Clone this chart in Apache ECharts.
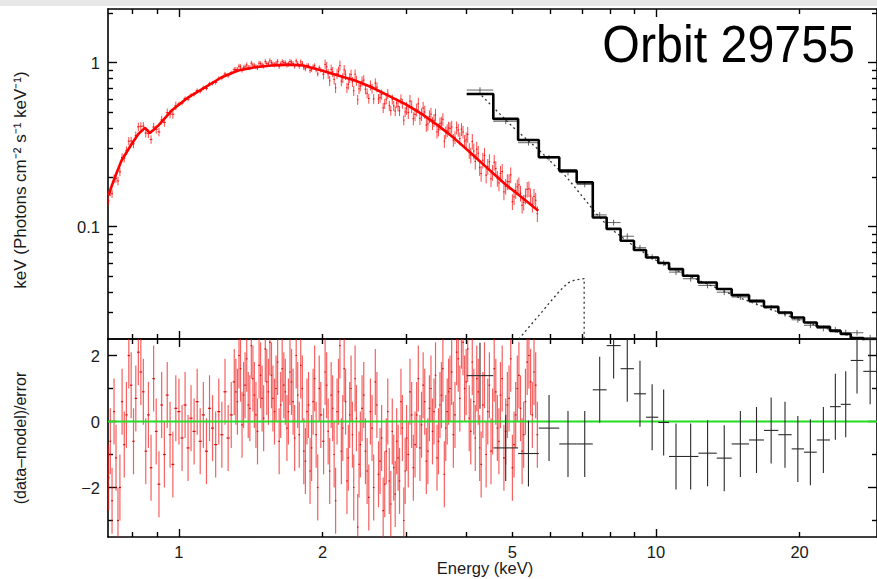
<!DOCTYPE html>
<html><head><meta charset="utf-8">
<script src="https://cdn.jsdelivr.net/npm/echarts@6/dist/echarts.min.js"></script>
<style>html,body{margin:0;padding:0;background:#fff}#c{width:877px;height:579px}</style>
</head><body><div id="c"></div>
<script>
// ---------------- data ----------------
// red spectrum (soft instrument): energy (keV), flux, residual
const redE = [0.712,0.718,0.724,0.731,0.738,0.745,0.752,0.760,0.768,0.776,0.785,0.794,0.803,0.812,0.822,0.832,0.842,0.852,0.863,0.874,0.885,0.896,0.908,0.920,0.932,0.945,0.958,0.971,0.985,
1.000,1.015,1.030,1.045,1.060,1.076,1.092,1.108,1.125,1.142,1.159,1.176,1.194,1.212,1.230,1.249,1.268,1.287,
1.306,1.316,1.326,1.336,1.346,1.356,1.366,1.376,1.387,1.397,
1.408,1.418,1.429,1.439,1.450,1.461,1.472,1.483,1.494,1.505,
1.517,1.528,1.540,1.551,1.563,1.574,1.586,1.598,1.610,1.622,
1.634,1.646,1.659,1.671,1.684,1.696,1.709,1.722,1.735,1.748,
1.761,1.774,1.787,1.800,1.814,1.827,1.841,1.855,1.869,1.883,
1.897,1.911,1.925,1.939,1.954,1.968,1.983,
2.01,2.025,2.04,2.055,2.07,2.085,2.10,2.115,2.13,2.145,
2.16,2.175,2.19,2.205,2.22,2.235,2.25,2.265,2.28,2.295,
2.31,2.325,2.34,2.355,2.37,2.385,2.40,2.42,2.44,2.46,
2.48,2.50,2.52,2.54,2.56,2.58,2.60,2.62,2.64,2.66,
2.68,2.70,2.72,2.74,2.76,2.78,2.80,2.82,2.84,2.86,
2.88,2.90,2.92,2.94,2.96,2.98,3.00,3.025,3.05,3.075,
3.10,3.125,3.15,3.175,3.20,3.225,3.25,3.275,3.30,3.325,
3.35,3.375,3.40,3.425,3.45,3.475,3.50,3.525,3.55,3.575,
3.60,3.625,3.65,3.675,3.70,3.73,3.76,3.79,3.82,3.85,
3.88,3.91,3.94,3.97,4.00,4.03,4.06,4.09,4.12,4.15,
4.18,4.21,4.24,4.27,4.30,4.335,4.37,4.405,4.44,4.475,
4.51,4.545,4.58,4.615,4.65,4.685,4.72,4.76,4.80,4.84,
4.88,4.92,4.96,5.00,5.04,5.08,5.12,5.16,5.20,5.24,
5.28,5.325,5.37,5.415,5.46,5.505,5.55,5.595,5.64];
const redFlux = [0.144,0.163,0.159,0.196,0.197,0.190,0.216,0.264,0.262,0.291,0.332,0.333,0.320,0.359,0.406,0.409,0.410,0.372,0.369,0.340,0.405,0.392,0.378,0.447,0.432,0.495,0.487,0.484,0.546,
0.560,0.566,0.604,0.598,0.632,0.641,0.676,0.668,0.702,0.697,0.743,0.748,0.757,0.801,0.804,0.852,0.832,0.865,
0.906,0.907,0.906,0.950,0.943,0.900,0.929,0.941,0.967,0.933,
0.934,0.991,0.967,0.956,0.943,0.932,0.990,0.984,0.966,0.951,
1.013,0.986,0.981,1.026,0.999,0.980,0.970,0.991,1.016,0.948,
0.980,1.013,1.000,0.995,0.965,0.981,1.015,1.005,0.985,0.952,
1.023,0.987,0.950,1.010,0.988,0.931,0.918,0.956,0.956,0.895,
0.909,0.943,0.956,0.903,0.853,0.930,0.902,
0.850,0.975,0.943,0.853,0.774,0.908,0.878,0.790,0.701,0.856,
0.884,0.960,0.770,0.806,0.903,0.842,0.702,0.737,0.806,0.846,
0.764,0.673,0.848,0.777,0.594,0.692,0.719,0.770,0.782,0.688,
0.651,0.604,0.727,0.695,0.600,0.749,0.708,0.601,0.613,0.639,
0.530,0.561,0.599,0.645,0.546,0.510,0.597,0.545,0.506,0.567,
0.541,0.508,0.599,0.562,0.446,0.500,0.528,0.497,0.582,0.540,
0.456,0.483,0.516,0.560,0.458,0.484,0.529,0.500,0.416,0.423,
0.469,0.486,0.427,0.445,0.480,0.378,0.390,0.424,0.429,0.451,
0.332,0.375,0.386,0.400,0.397,0.405,0.337,0.350,0.401,0.388,
0.344,0.392,0.378,0.332,0.338,0.365,0.291,0.273,0.331,0.289,
0.250,0.297,0.280,0.229,0.211,0.254,0.272,0.206,0.233,0.249,
0.196,0.214,0.247,0.226,0.197,0.185,0.211,0.217,0.163,0.176,
0.188,0.188,0.207,0.142,0.152,0.166,0.175,0.180,0.160,0.135,
0.141,0.154,0.169,0.170,0.154,0.137,0.153,0.145,0.120];
const redResid = [-1.7,-0.6,-2.4,0.3,-1.1,-3.0,-2.0,0.6,-0.7,0.2,2.0,1.1,-0.6,0.7,2.1,1.5,0.9,-0.9,0.2,-1.4,1.3,-0.3,-1.9,0.5,-1.0,0.8,-0.4,-1.3,0.4,
0.3,-0.5,0.5,-0.8,0.1,-0.3,0.6,-0.6,0.2,-0.9,0.4,-0.2,-0.7,0.3,-0.4,0.9,-0.5,0.2,
1.2,0.9,0.6,2.0,1.6,-0.1,0.8,1.1,1.9,0.5,
0.4,2.3,1.3,0.8,0.2,-0.3,1.7,1.4,0.7,0.1,
2.2,1.2,0.9,2.4,1.4,0.7,0.3,1.0,1.8,-0.6,
0.5,1.6,1.1,0.9,-0.2,0.3,1.5,1.2,0.6,-0.5,
2.0,0.8,-0.4,1.7,1.0,-0.9,-1.2,0.3,0.5,-1.5,
-0.8,0.6,1.3,-0.4,-2.0,1.0,0.2,
-0.6,1.5,1.1,-0.3,-1.5,0.8,0.4,-1.0,-2.4,0.3,
0.9,2.3,-0.9,-0.2,1.6,0.6,-1.8,-1.1,0.2,1.0,
-0.4,-2.0,1.3,0.1,-3.2,-1.3,-0.7,0.4,0.8,-0.9,
-1.5,-2.3,0.3,-0.2,-2.0,1.2,0.5,-1.6,-1.2,-0.5,
-2.7,-1.9,-0.9,0.3,-1.8,-2.5,-0.3,-1.4,-2.2,-0.6,
-1.1,-1.8,0.6,-0.2,-3.0,-1.5,-0.5,-1.0,0.9,0.2,
-1.4,-0.7,0.2,1.3,-0.8,-0.1,1.1,0.6,-1.2,-0.9,
0.4,1.0,-0.3,0.3,1.4,-1.1,-0.6,0.5,0.8,1.6,
-1.6,-0.2,0.3,0.9,1.0,1.5,-0.4,0.2,2.1,1.9,
0.7,2.6,2.4,1.0,1.2,2.2,0.1,-0.3,1.8,0.6,
-0.5,1.3,0.9,-0.8,-1.3,0.5,1.4,-1.0,0.3,1.1,
-0.9,0.0,1.6,0.9,-0.2,-0.6,0.8,1.3,-1.1,-0.3,
0.5,0.7,1.9,-1.4,-0.7,0.2,1.0,1.4,0.4,-0.9,
-0.4,0.6,1.8,2.0,1.2,0.2,1.5,1.1,-0.4];
// fractional flux error of the red points, by energy band
const redErrBandEdges = [0.7, 1.0, 1.3, 2.0, 3.0, 4.0, 6.0];
const redErrBandFrac  = [0.06, 0.03, 0.035, 0.07, 0.09, 0.11];
// red folded model
const redModelE = [0.711,0.734,0.758,0.796,0.822,0.849,0.869,0.905,0.965,1.046,1.134,1.229,1.331,1.443,1.564,1.695,1.822,1.991,2.158,2.339,2.535,2.747,2.977,3.227,3.496,3.789,4.107,4.45,4.825,5.23,5.665];
const redModelV = [0.155,0.200,0.253,0.319,0.367,0.400,0.372,0.413,0.510,0.614,0.707,0.814,0.894,0.936,0.959,0.972,0.959,0.894,0.833,0.777,0.707,0.629,0.560,0.487,0.413,0.343,0.278,0.225,0.182,0.151,0.125];
// black spectrum (hard instrument): bin edges, model steps, data, residuals
const blackEdges = [4.01,4.56,5.14,5.68,6.27,6.82,7.37,7.88,8.43,8.99,9.53,10.11,10.65,11.39,12.27,13.41,14.41,15.67,16.84,18.05,19.25,20.43,21.73,23.16,24.39,25.60,27.20,29.06];
const blackModel = [0.644,0.4536,0.3378,0.2647,0.2196,0.1863,0.1139,0.0970,0.0822,0.0721,0.0650,0.0601,0.0552,0.0503,0.0457,0.0417,0.0383,0.0354,0.0325,0.0300,0.0280,0.0261,0.0246,0.0232,0.0222,0.0210,0.0199];
const blackFlux  = [0.680,0.439,0.325,0.263,0.214,0.181,0.118,0.106,0.0875,0.0745,0.0653,0.0600,0.0529,0.0482,0.0439,0.0399,0.0373,0.0346,0.0321,0.0295,0.0271,0.0251,0.0240,0.0236,0.0227,0.0226,0.0211];
const blackResid = [1.39,-0.8,-0.97,-0.2,-0.68,-0.68,0.96,2.3,1.6,0.84,0.13,-0.03,-1.06,-1.06,-0.96,-1.11,-0.68,-0.56,-0.27,-0.4,-0.83,-0.93,-0.56,0.45,0.52,1.85,1.52];
const blackErrFrac = 0.04;
// dotted model components
const contE = [4.31,5.02,5.70,6.50,7.51,8.0,9.0,10.0,11.0,12.8,15.0,17.5,20.0,23.0,26.0,29.0];
const contV = [0.629,0.403,0.291,0.200,0.1195,0.098,0.076,0.0625,0.0545,0.0448,0.0368,0.0312,0.0270,0.0238,0.0212,0.0193];
const edgeE = [5.0,5.19,5.45,5.72,5.98,6.28,6.54,6.76,7.07,7.07];
const edgeV = [0.0185,0.0211,0.0250,0.0294,0.0344,0.0406,0.0455,0.0474,0.0483,0.015];
// axes / ticks
const xMin = 0.71, xMax = 29.06;
const yTopMin = 0.0207, yTopMax = 2.12;
const yBotMin = -3.5, yBotMax = 2.5;
const xTickMinor = [0.8,0.9,2,3,4,5,6,7,8,9,20];
const xTickMajor = [1,10];
const xTickLabels = [1,2,5,10,20];
const yTopMinor = [0.03,0.04,0.05,0.06,0.07,0.08,0.09,0.2,0.3,0.4,0.5,0.6,0.7,0.8,0.9,2];
const yTopMajor = [0.1,1];
const yTopLabels = [0.1,1];
const yBotMinor = [-3,-1,1];
const yBotMajor = [-2,0,2];
const yBotLabels = [-2,0,2];

// ---------------- build ----------------
const FONT = '"Liberation Sans", Arial, Helvetica, sans-serif';
const chart = echarts.init(document.getElementById('c'), null, {renderer: 'svg'});

function xAx(grid, pos, ticks, len, line, labels) {
  return {
    type: 'log', logBase: 10, gridIndex: grid, position: pos, min: xMin, max: xMax,
    axisLine: {show: line, onZero: false, lineStyle: {color: '#000', width: 1.6}},
    axisTick: {show: true, inside: true, length: len, customValues: ticks, lineStyle: {color: '#000', width: 1.4}},
    axisLabel: labels ? {show: true, customValues: labels, margin: 6, color: '#1a1a1a', fontSize: 16.5, fontFamily: FONT} : {show: false},
    splitLine: {show: false}, minorTick: {show: false}
  };
}
function yAx(grid, pos, type, min, max, ticks, len, line, labels) {
  const o = {
    type: type, gridIndex: grid, position: pos, min: min, max: max,
    axisLine: {show: line, onZero: false, lineStyle: {color: '#000', width: 1.6}},
    axisTick: {show: true, inside: true, length: len, customValues: ticks, lineStyle: {color: '#000', width: 1.4}},
    axisLabel: labels ? {show: true, customValues: labels, margin: 8, color: '#1a1a1a', fontSize: 16.5, fontFamily: FONT,
      formatter: v => (v < 0 ? '\u2212' + Math.abs(v) : String(v))} : {show: false},
    splitLine: {show: false}, minorTick: {show: false}
  };
  if (type === 'log') o.logBase = 10;
  return o;
}

const xAxes = [
  xAx(0, 'bottom', xTickMinor, 5, true, null),
  xAx(0, 'bottom', xTickMajor, 8, false, null),
  xAx(0, 'top', xTickMinor, 5, true, null),
  xAx(0, 'top', xTickMajor, 8, false, null),
  xAx(1, 'bottom', xTickMinor, 5, true, null),
  xAx(1, 'bottom', xTickMajor, 8, false, xTickLabels),
  xAx(1, 'top', xTickMinor, 5, true, null),
  xAx(1, 'top', xTickMajor, 8, false, null)
];
const yAxes = [
  yAx(0, 'left', 'log', yTopMin, yTopMax, yTopMinor, 5, true, null),
  yAx(0, 'left', 'log', yTopMin, yTopMax, yTopMajor, 9, false, yTopLabels),
  yAx(0, 'right', 'log', yTopMin, yTopMax, yTopMinor, 5, true, null),
  yAx(0, 'right', 'log', yTopMin, yTopMax, yTopMajor, 9, false, null),
  yAx(1, 'left', 'value', yBotMin, yBotMax, yBotMinor, 5, true, null),
  yAx(1, 'left', 'value', yBotMin, yBotMax, yBotMajor, 9, false, yBotLabels),
  yAx(1, 'right', 'value', yBotMin, yBotMax, yBotMinor, 5, true, null),
  yAx(1, 'right', 'value', yBotMin, yBotMax, yBotMajor, 9, false, null)
];

function redFrac(e) {
  for (let i = 0; i < redErrBandFrac.length; i++) if (e < redErrBandEdges[i + 1]) return redErrBandFrac[i];
  return redErrBandFrac[redErrBandFrac.length - 1];
}
function binLo(arr, i) { return i === 0 ? arr[0] * arr[0] / Math.sqrt(arr[0] * arr[1]) : Math.sqrt(arr[i - 1] * arr[i]); }
function binHi(arr, i) { const n = arr.length; return i === n - 1 ? arr[n - 1] * arr[n - 1] / Math.sqrt(arr[n - 2] * arr[n - 1]) : Math.sqrt(arr[i] * arr[i + 1]); }

// item layout: [x, y, xlo, xhi, ylo, yhi]
const redTop = redE.map((e, i) => { const f = redFlux[i], d = f * redFrac(e); return [e, f, binLo(redE, i), binHi(redE, i), f - d, f + d]; });
const redBot = redE.map((e, i) => { const r = redResid[i]; return [e, r, binLo(redE, i), binHi(redE, i), r - 1, r + 1]; });
const blackTop = blackFlux.map((f, i) => { const lo = blackEdges[i], hi = blackEdges[i + 1], d = f * blackErrFrac; return [Math.sqrt(lo * hi), f, lo, hi, f - d, f + d]; });
const blackBot = blackResid.map((r, i) => { const lo = blackEdges[i], hi = blackEdges[i + 1]; return [Math.sqrt(lo * hi), r, lo, hi, r - 1, r + 1]; });
const stepData = blackModel.map((v, i) => [blackEdges[i], v]).concat([[blackEdges[blackEdges.length - 1], blackModel[blackModel.length - 1]]]);

function crossRender(vStroke, hStroke, lw) {
  return function (params, api) {
    const cs = params.coordSys;
    const top = cs.y, bot = cs.y + cs.height, left = cs.x, right = cs.x + cs.width;
    const c = api.coord([api.value(0), api.value(1)]);
    const a = api.coord([api.value(0), api.value(5)]);
    const b = api.coord([api.value(0), api.value(4)]);
    const l = api.coord([api.value(2), api.value(1)]);
    const r = api.coord([api.value(3), api.value(1)]);
    const cl = v => Math.max(top, Math.min(bot, v));
    const ch = [];
    if (!(a[1] > bot || b[1] < top)) ch.push({type: 'line', shape: {x1: c[0], y1: cl(a[1]), x2: c[0], y2: cl(b[1])}, style: {stroke: vStroke, lineWidth: lw}});
    if (c[1] >= top && c[1] <= bot) ch.push({type: 'line', shape: {x1: Math.max(left, l[0]), y1: c[1], x2: Math.min(right, r[0]), y2: c[1]}, style: {stroke: hStroke, lineWidth: lw}});
    return {type: 'group', children: ch};
  };
}
const customBase = {type: 'custom', silent: true, clip: false, encode: {x: 0, y: 1}, animation: false};

const option = {
  animation: false,
  backgroundColor: '#ffffff',
  grid: [
    {left: 108, top: 9, width: 769, height: 330},
    {left: 108, top: 339, width: 769, height: 198}
  ],
  xAxis: xAxes,
  yAxis: yAxes,
  series: [
    Object.assign({}, customBase, {name: 'red data', xAxisIndex: 0, yAxisIndex: 0, z: 2,
      renderItem: crossRender('rgba(250,0,0,0.72)', 'rgba(240,0,0,0.9)', 1), data: redTop}),
    {type: 'line', name: 'red model', xAxisIndex: 0, yAxisIndex: 0, z: 3, symbol: 'none', silent: true,
      lineStyle: {color: '#ff0000', width: 2.6}, data: redModelE.map((e, i) => [e, redModelV[i]])},
    {type: 'line', name: 'continuum', xAxisIndex: 0, yAxisIndex: 0, z: 3, symbol: 'none', silent: true,
      lineStyle: {color: '#333', width: 1.3, type: [2, 3]}, data: contE.map((e, i) => [e, contV[i]])},
    {type: 'line', name: 'edge', xAxisIndex: 0, yAxisIndex: 0, z: 3, symbol: 'none', silent: true,
      lineStyle: {color: '#333', width: 1.3, type: [2, 3]}, data: edgeE.map((e, i) => [e, edgeV[i]])},
    Object.assign({}, customBase, {name: 'black data', xAxisIndex: 0, yAxisIndex: 0, z: 4,
      renderItem: crossRender('rgba(60,60,60,0.8)', 'rgba(60,60,60,0.8)', 1), data: blackTop}),
    {type: 'line', name: 'black model', xAxisIndex: 0, yAxisIndex: 0, z: 5, symbol: 'none', silent: true, step: 'end',
      lineStyle: {color: '#000', width: 2.6}, data: stepData},
    Object.assign({}, customBase, {name: 'red resid', xAxisIndex: 4, yAxisIndex: 4, z: 2,
      renderItem: crossRender('rgba(240,20,20,0.68)', 'rgba(220,0,0,0.95)', 1.2), data: redBot}),
    {type: 'line', name: 'zero', xAxisIndex: 4, yAxisIndex: 4, z: 3, symbol: 'none', silent: true,
      lineStyle: {color: '#22dd22', width: 2}, data: [[xMin, 0], [xMax, 0]]},
    Object.assign({}, customBase, {name: 'black resid', xAxisIndex: 4, yAxisIndex: 4, z: 4,
      renderItem: crossRender('#2a2a2a', '#2a2a2a', 1.1), data: blackBot})
  ],
  graphic: [
    {type: 'rect', left: 0, top: 0, shape: {width: 877, height: 6}, style: {fill: '#e8e8e8'}, silent: true},
    {type: 'text', x: 855, y: 44, scaleX: 0.93, style: {text: 'Orbit 29755', font: '52px ' + FONT, fill: '#000', textAlign: 'right', textVerticalAlign: 'middle'}},
    {type: 'text', x: 20, y: 180, rotation: Math.PI / 2, style: {text: 'keV (Photons cm\u207B\u00B2 s\u207B\u00B9 keV\u207B\u00B9)', font: '17px ' + FONT, fill: '#1a1a1a', textAlign: 'center', textVerticalAlign: 'middle'}},
    {type: 'text', x: 20, y: 438, rotation: Math.PI / 2, style: {text: '(data\u2013model)/error', font: '16px ' + FONT, fill: '#1a1a1a', textAlign: 'center', textVerticalAlign: 'middle'}},
    {type: 'text', x: 485, y: 568, style: {text: 'Energy (keV)', font: '16.5px ' + FONT, fill: '#1a1a1a', textAlign: 'center', textVerticalAlign: 'middle'}}
  ]
};
chart.setOption(option);
</script>
</body></html>
